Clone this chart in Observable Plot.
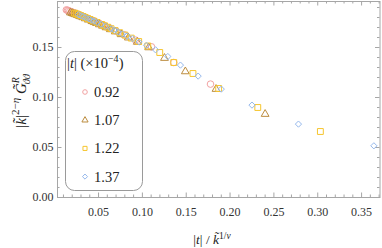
<!DOCTYPE html>
<html>
<head>
<meta charset="utf-8">
<script src="https://cdn.jsdelivr.net/npm/d3@7"></script>
<script src="https://cdn.jsdelivr.net/npm/@observablehq/plot@0.6"></script>
<style>
html,body{margin:0;padding:0;background:#fff;}
svg{display:block;}
svg text, svg tspan{font-family:"Liberation Serif","Times New Roman",serif !important;}
</style>
</head>
<body>
<div id="chart"></div>
<script>
// ---- data ----
const seriesLabels = ["0.92", "1.07", "1.22", "1.37"];
const seriesSymbols = ["circle", "triangle", "square", "diamond2"];
const seriesColors = ["#F2A2A2", "#BC8C3E", "#F6C52E", "#95B8EC"];

const x092 = [0.1777,0.1358,0.1104,0.0921,0.0794,0.0697,0.0622,0.0561,0.0511,0.0469,0.0434,0.0403,0.0377,0.0354,0.0333,0.0315,0.0284,0.0258,0.0237,0.0219,0.0203,0.0190,0.0173,0.0158,0.0146,0.0133];
const y092 = [0.1134,0.1350,0.1507,0.1574,0.1627,0.1666,0.1697,0.1721,0.1740,0.1756,0.1769,0.1781,0.1790,0.1799,0.1806,0.1813,0.1824,0.1834,0.1841,0.1847,0.1853,0.1857,0.1863,0.1868,0.1872,0.1876];

const x107 = [0.2400,0.1840,0.1490,0.1252,0.1072,0.0942,0.0840,0.0758,0.0690,0.0634,0.0586,0.0545,0.0509,0.0477,0.0450,0.0425,0.0383,0.0349,0.0320,0.0295,0.0275,0.0256,0.0233,0.0214,0.0198,0.0179];
const y107 = [0.0834,0.1084,0.1260,0.1394,0.1500,0.1555,0.1598,0.1631,0.1659,0.1681,0.1700,0.1716,0.1730,0.1743,0.1752,0.1762,0.1777,0.1790,0.1801,0.1810,0.1817,0.1824,0.1831,0.1837,0.1843,0.1849];

const x122 = [0.3030,0.2316,0.1870,0.1577,0.1358,0.1198,0.1062,0.0958,0.0873,0.0801,0.0741,0.0689,0.0643,0.0604,0.0569,0.0537,0.0484,0.0441,0.0404,0.0374,0.0347,0.0324,0.0295,0.0270,0.0250,0.0227];
const y122 = [0.0660,0.0900,0.1090,0.1240,0.1350,0.1450,0.1515,0.1560,0.1594,0.1624,0.1648,0.1669,0.1688,0.1703,0.1717,0.1730,0.1750,0.1766,0.1780,0.1791,0.1801,0.1810,0.1820,0.1829,0.1836,0.1844];

const x137 = [0.3640,0.2780,0.2250,0.1900,0.1636,0.1434,0.1290,0.1150,0.1047,0.0962,0.0888,0.0826,0.0772,0.0725,0.0683,0.0645,0.0581,0.0529,0.0485,0.0448,0.0417,0.0389,0.0354,0.0324,0.0300,0.0272];
const y137 = [0.0517,0.0734,0.0924,0.1084,0.1214,0.1324,0.1410,0.1477,0.1521,0.1555,0.1588,0.1615,0.1636,0.1655,0.1672,0.1687,0.1713,0.1733,0.1750,0.1764,0.1775,0.1786,0.1799,0.1810,0.1818,0.1828];

const xMajor = [0.05,0.10,0.15,0.20,0.25,0.30,0.35];
const xMinor = [0.01,0.02,0.03,0.04,0.06,0.07,0.08,0.09,0.11,0.12,0.13,0.14,0.16,0.17,0.18,0.19,0.21,0.22,0.23,0.24,0.26,0.27,0.28,0.29,0.31,0.32,0.33,0.34,0.36,0.37];
const yMajor = [0.00,0.05,0.10,0.15];
const yMinor = [0.01,0.02,0.03,0.04,0.06,0.07,0.08,0.09,0.11,0.12,0.13,0.14,0.16,0.17,0.18,0.19];

// ---- build ----
const xs = [x092, x107, x122, x137];
const ys = [y092, y107, y122, y137];
const sizes = [3.3, 2.9, 3.3, 2.8];

const W = 382, H = 248;
const mL = 57, mR = 2.5, mT = 1, mB = 51;
const innerH = H - mT - mB, innerW = W - mL - mR;
const frameColor = "#a6a6a6";
const font = "Liberation Serif";

const dotMarks = xs.map((xa, i) => Plot.dot(xa.map((x, j) => ({x, y: ys[i][j]})), {
  x: "x", y: "y", symbol: seriesSymbols[i], r: sizes[i],
  stroke: seriesColors[i], fill: "none", strokeWidth: 1
}));

const chart = Plot.plot({
  width: W, height: H,
  marginLeft: mL, marginRight: mR, marginTop: mT, marginBottom: mB,
  style: {fontFamily: font, background: "#fff"},
  x: {domain: [0.0032, 0.371], axis: null},
  y: {domain: [0, 0.196], axis: null},
  marks: [
    Plot.ruleX(xMajor, {x: d => d, insetTop: innerH - 4.5, stroke: frameColor}),
    Plot.ruleX(xMajor, {x: d => d, insetBottom: innerH - 4.5, stroke: frameColor}),
    Plot.ruleX(xMinor, {x: d => d, insetTop: innerH - 2.5, stroke: frameColor}),
    Plot.ruleX(xMinor, {x: d => d, insetBottom: innerH - 2.5, stroke: frameColor}),
    Plot.ruleY(yMajor, {y: d => d, insetRight: innerW - 4.5, stroke: frameColor}),
    Plot.ruleY(yMajor, {y: d => d, insetLeft: innerW - 4.5, stroke: frameColor}),
    Plot.ruleY(yMinor, {y: d => d, insetRight: innerW - 2.5, stroke: frameColor}),
    Plot.ruleY(yMinor, {y: d => d, insetLeft: innerW - 2.5, stroke: frameColor}),
    Plot.frame({stroke: frameColor}),
    Plot.axisX(xMajor, {tickSize: 0, tickPadding: 9.5, tickFormat: d3.format(".2f"), fontSize: 12, fill: "#333", label: null}),
    Plot.axisY(yMajor, {tickSize: 0, tickPadding: 4, tickFormat: d3.format(".2f"), fontSize: 12, fill: "#333", label: null}),
    ...dotMarks
  ]
});

document.getElementById("chart").appendChild(chart);

const svg = d3.select(chart);

// x-axis title: |t| / k̃^{1/ν}
{
  const t = svg.append("text").attr("x", 212).attr("y", 244)
    .attr("text-anchor", "middle").attr("font-size", 13.5).attr("fill", "#222");
  t.append("tspan").text("|");
  t.append("tspan").attr("font-style", "italic").text("t");
  t.append("tspan").text("| / ");
  t.append("tspan").attr("font-style", "italic").text("k\u0303");
  t.append("tspan").attr("dy", -5).attr("font-size", 9.5).text("1/");
  t.append("tspan").attr("font-size", 9.5).attr("font-style", "italic").text("\u03BD");
}

// y-axis title: |k̃|^{2−η} G̃^R_{ϑϑ}
{
  const t = svg.append("text").attr("transform", "translate(26,101) rotate(-90)")
    .attr("text-anchor", "middle").attr("font-size", 15).attr("fill", "#222");
  t.append("tspan").text("|");
  t.append("tspan").attr("font-style", "italic").text("k\u0303");
  t.append("tspan").text("|");
  t.append("tspan").attr("dy", -7).attr("font-size", 11).text("2\u2212");
  t.append("tspan").attr("font-size", 11).attr("font-style", "italic").text("\u03B7");
  t.append("tspan").attr("dy", 7).attr("font-style", "italic").text(" G\u0303");
  t.append("tspan").attr("dy", -7).attr("font-size", 10).attr("font-style", "italic").text("R");
  t.append("tspan").attr("dx", -7).attr("dy", 11).attr("font-size", 10).attr("font-style", "italic").text("\u03D1\u03D1");
}

// legend inside the frame
{
  const g = svg.append("g");
  g.append("rect").attr("x", 65.5).attr("y", 51.5).attr("width", 77).attr("height", 139)
    .attr("rx", 9).attr("fill", "#fff").attr("stroke", "#9a9a9a");
  const title = g.append("text").attr("x", 67).attr("y", 68).attr("text-anchor", "start")
    .attr("font-size", 14.5).attr("fill", "#222");
  title.append("tspan").text("|");
  title.append("tspan").attr("font-style", "italic").text("t");
  title.append("tspan").text("| (\u00D710");
  title.append("tspan").attr("dy", -6).attr("font-size", 10).text("\u22124");
  title.append("tspan").attr("dy", 6).text(")");
  const d3sym = {circle: d3.symbolCircle, triangle: d3.symbolTriangle, square: d3.symbolSquare, diamond2: d3.symbolDiamond2};
  seriesLabels.forEach((lab, i) => {
    const cy = 92 + i * 28.2;
    g.append("path").attr("transform", `translate(85,${cy})`)
      .attr("d", d3.symbol(d3sym[seriesSymbols[i]], Math.PI * 2.3 * 2.3)())
      .attr("fill", "none").attr("stroke", seriesColors[i]).attr("stroke-width", 1);
    g.append("text").attr("x", 94).attr("y", cy + 5).attr("text-anchor", "start")
      .attr("font-size", 14.5).attr("fill", "#222").text(lab);
  });
}
</script>
</body>
</html>
